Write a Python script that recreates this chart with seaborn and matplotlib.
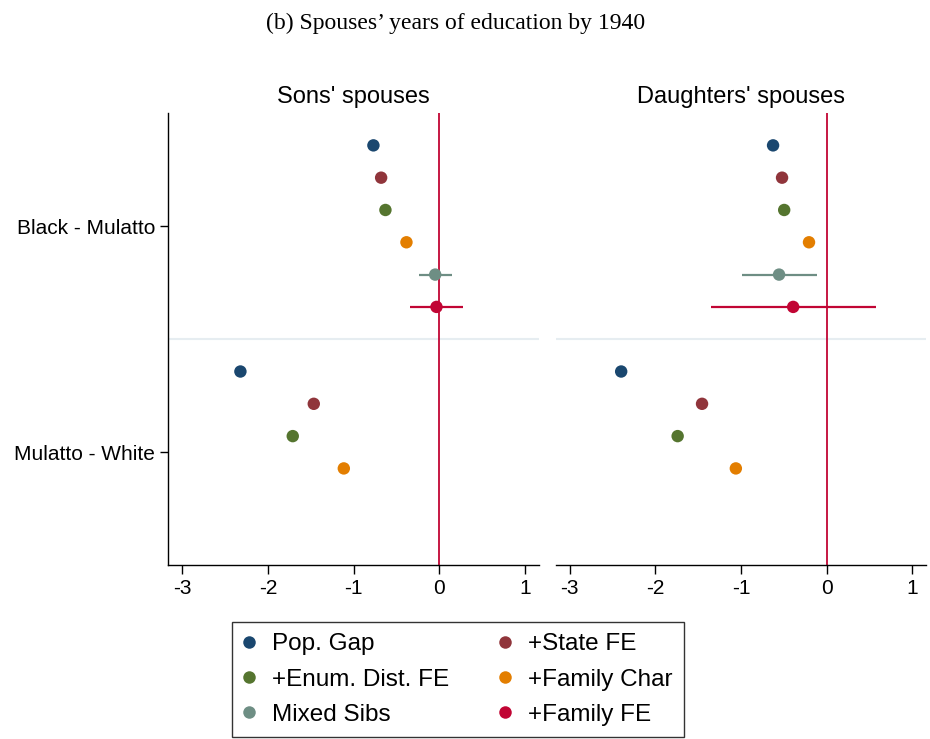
import numpy as np
import pandas as pd
import matplotlib
matplotlib.use("Agg")
import matplotlib.pyplot as plt
from matplotlib.lines import Line2D
import seaborn as sns

# ---------------- data ----------------
models = ["Pop. Gap", "+State FE", "+Enum. Dist. FE", "+Family Char", "Mixed Sibs", "+Family FE"]
groups = ["Black - Mulatto", "Mulatto - White"]
panels = ["Sons' spouses", "Daughters' spouses"]

# Sons' spouses
sons_bm = [-0.77, -0.68, -0.63, -0.385, -0.05, -0.035]
sons_bm_lo = [-0.79, -0.70, -0.65, -0.405, -0.24, -0.345]
sons_bm_hi = [-0.75, -0.66, -0.61, -0.365, 0.15, 0.275]
sons_mw = [-2.32, -1.465, -1.71, -1.115]
sons_mw_lo = [-2.34, -1.485, -1.73, -1.135]
sons_mw_hi = [-2.30, -1.445, -1.69, -1.095]

# Daughters' spouses
dau_bm = [-0.625, -0.52, -0.495, -0.205, -0.555, -0.39]
dau_bm_lo = [-0.645, -0.54, -0.515, -0.225, -0.985, -1.355]
dau_bm_hi = [-0.605, -0.50, -0.475, -0.185, -0.115, 0.58]
dau_mw = [-2.40, -1.455, -1.74, -1.06]
dau_mw_lo = [-2.42, -1.475, -1.76, -1.08]
dau_mw_hi = [-2.38, -1.435, -1.72, -1.04]

palette = {
    "Pop. Gap": "#1a476f",
    "+State FE": "#90353b",
    "+Enum. Dist. FE": "#55752f",
    "+Family Char": "#e37e00",
    "Mixed Sibs": "#6e8e84",
    "+Family FE": "#c10534",
}


def build(bm, bm_lo, bm_hi, mw, mw_lo, mw_hi):
    rows = []
    for i, (c, lo, hi) in enumerate(zip(bm, bm_lo, bm_hi)):
        rows.append(dict(model=models[i], group=groups[0], coef=c, lo=lo, hi=hi, pos=i))
    for i, (c, lo, hi) in enumerate(zip(mw, mw_lo, mw_hi)):
        rows.append(dict(model=models[i], group=groups[1], coef=c, lo=lo, hi=hi, pos=7 + i))
    return pd.DataFrame(rows)


dfs = [build(sons_bm, sons_bm_lo, sons_bm_hi, sons_mw, sons_mw_lo, sons_mw_hi),
       build(dau_bm, dau_bm_lo, dau_bm_hi, dau_mw, dau_mw_lo, dau_mw_hi)]

# ---------------- figure ----------------
sns.set_theme(style="white")
plt.rcParams["font.family"] = ["Liberation Sans", "DejaVu Sans"]
plt.rcParams["text.color"] = "black"
plt.rcParams["axes.labelcolor"] = "black"
plt.rcParams["xtick.color"] = "black"
plt.rcParams["ytick.color"] = "black"
plt.rcParams["axes.titlecolor"] = "black"

fig = plt.figure(figsize=(9.3, 7.39), dpi=100)
ax_l = fig.add_axes([0.181, 0.235, 0.3986, 0.612])
ax_r = fig.add_axes([0.598, 0.235, 0.3975, 0.612])

for k, (ax, df) in enumerate(zip([ax_l, ax_r], dfs)):
    ax.axhline(6, color="#e6edf1", lw=1.5, zorder=1)
    ax.axvline(0, color="#c10534", lw=1.3, zorder=2)
    for _, r in df.iterrows():
        ax.hlines(r["pos"], r["lo"], r["hi"], color=palette[r["model"]], lw=1.6, zorder=3)
    sns.scatterplot(data=df, x="coef", y="pos", hue="model", palette=palette,
                    hue_order=models, s=80, edgecolor="none", legend=False,
                    ax=ax, zorder=4)
    ax.set_ylim(13, -1)
    ax.set_xlim(-3.16, 1.16)
    ax.set_xticks([-3, -2, -1, 0, 1])
    ax.set_xticklabels(["-3", "-2", "-1", "0", "1"], fontsize=15)
    ax.set_xlabel("")
    ax.set_ylabel("")
    ax.set_title(panels[k], fontsize=17, pad=7)
    for s in ["top", "right"]:
        ax.spines[s].set_visible(False)
    ax.spines["bottom"].set_color("black")
    ax.spines["bottom"].set_linewidth(1.0)
    ax.tick_params(axis="x", bottom=True, length=6.5, width=1, color="black", pad=3)
    if k == 0:
        ax.spines["left"].set_color("black")
        ax.spines["left"].set_linewidth(1.0)
        ax.set_yticks([2.5, 9.5])
        ax.set_yticklabels(groups, fontsize=15)
        ax.tick_params(axis="y", left=True, length=6, width=1, color="black", pad=3.5)
    else:
        ax.spines["left"].set_visible(False)
        ax.set_yticks([])

fig.text(0.49, 0.968, "(b) Spouses\u2019 years of education by 1940",
         family=["Liberation Serif", "DejaVu Serif"], fontsize=17, ha="center", va="center")

order = [0, 2, 4, 1, 3, 5]
handles = [Line2D([], [], marker="o", linestyle="none", markersize=9,
                  markerfacecolor=palette[models[i]], markeredgecolor="none")
           for i in order]
labels = [models[i] for i in order]
leg = fig.legend(handles, labels, ncol=2, loc="center", bbox_to_anchor=(0.4925, 0.0805),
                 fontsize=17.5, frameon=True, fancybox=False, edgecolor="black",
                 handletextpad=0.74, columnspacing=2.1, borderpad=0.48,
                 labelspacing=0.54, handlelength=0.4)
leg.get_frame().set_linewidth(1.0)

fig.savefig("out.png", dpi=100, facecolor="white")
